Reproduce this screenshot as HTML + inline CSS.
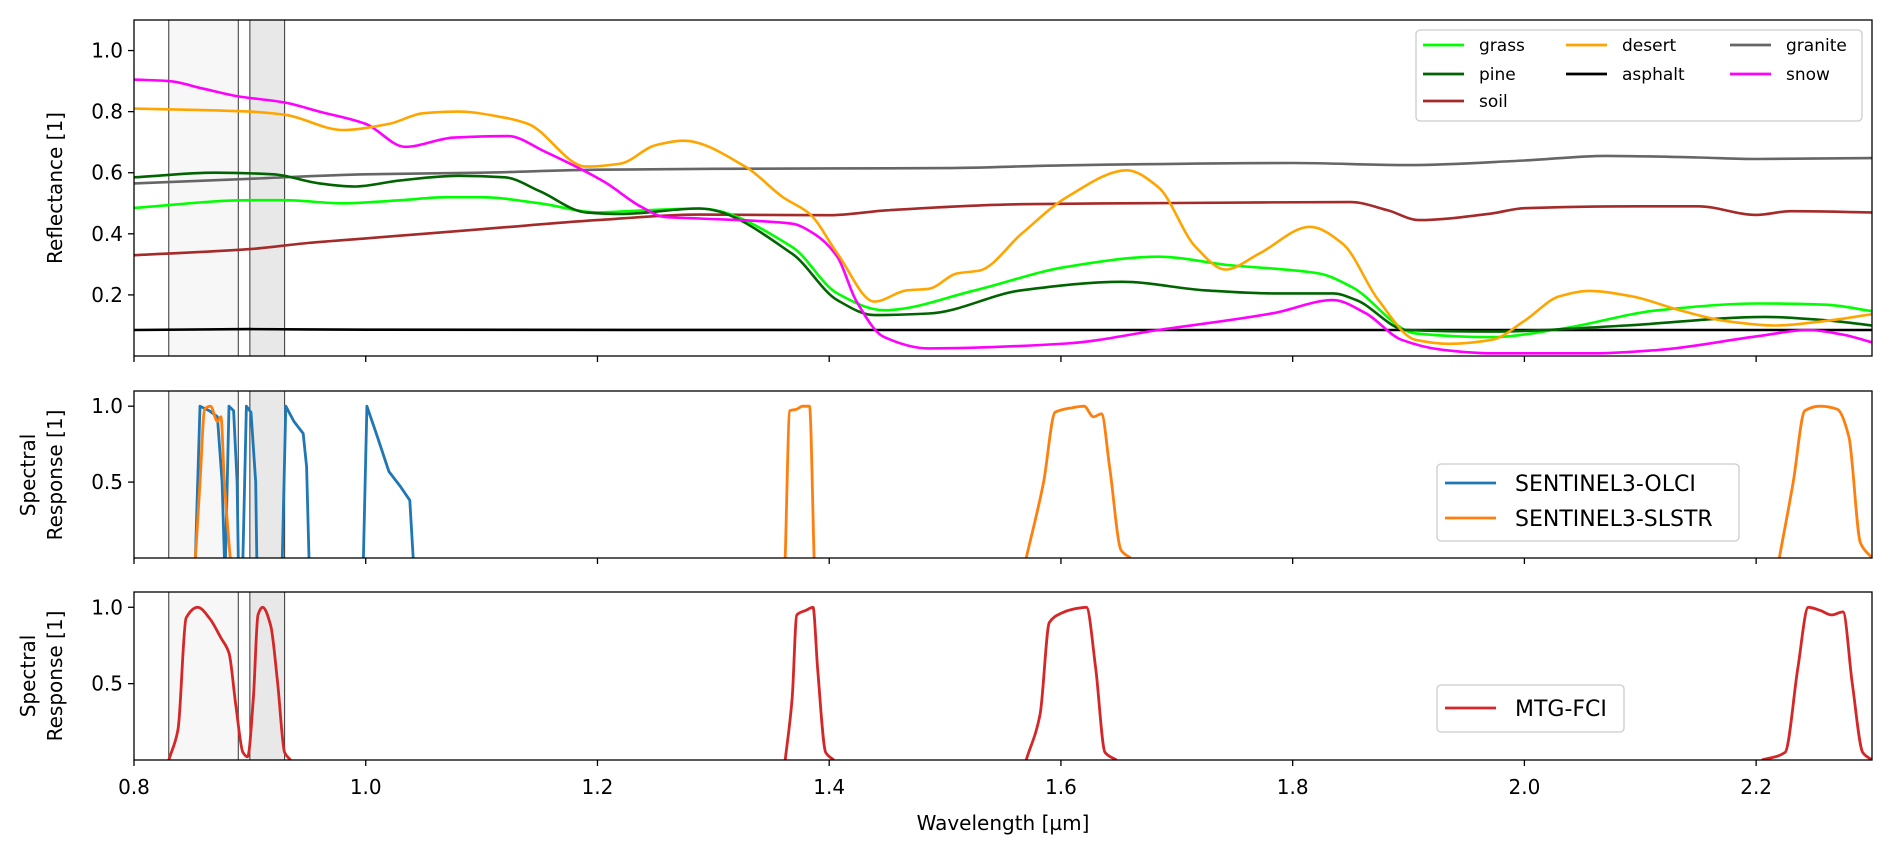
<!DOCTYPE html>
<html><head><meta charset="utf-8"><style>
html,body{margin:0;padding:0;background:#fff;}
svg{display:block;font-family:"DejaVu Sans","Liberation Sans",sans-serif;}
</style></head><body>
<svg id="fig" width="1892" height="852" viewBox="0 0 1892 852" xmlns="http://www.w3.org/2000/svg"></svg>
<script>
// ---- data ----
const xTicks = [0.8,1.0,1.2,1.4,1.6,1.8,2.0,2.2];
const reflTicks = [0.2,0.4,0.6,0.8,1.0];
const respTicks = [0.5,1.0];
const bands = [[0.83,0.89],[0.90,0.93]];

const grassWl = [0.8,0.9,0.93,0.98,1.03,1.07,1.1,1.15,1.2,1.23,1.288,1.368,1.407,1.447,1.526,1.605,1.684,1.744,1.823,1.851,1.906,1.972,2.03,2.116,2.202,2.26,2.3];
const grassV  = [0.485,0.51,0.51,0.50,0.51,0.52,0.52,0.50,0.47,0.475,0.483,0.357,0.205,0.150,0.215,0.292,0.325,0.298,0.27,0.226,0.074,0.062,0.088,0.15,0.172,0.168,0.147];
const pineWl = [0.8,0.87,0.92,0.96,0.99,1.03,1.08,1.12,1.15,1.19,1.22,1.288,1.368,1.407,1.439,1.486,1.566,1.653,1.724,1.783,1.835,1.855,1.898,1.972,2.088,2.208,2.26,2.3];
const pineV  = [0.585,0.60,0.595,0.565,0.555,0.575,0.59,0.585,0.54,0.47,0.465,0.483,0.335,0.183,0.134,0.139,0.215,0.243,0.215,0.205,0.205,0.183,0.085,0.08,0.10,0.128,0.117,0.10];
const soilWl = [0.8,0.9,0.95,1.0,1.05,1.1,1.2,1.288,1.4,1.45,1.566,1.7,1.85,1.882,1.909,1.972,2.0,2.1,2.15,2.2,2.23,2.3];
const soilV  = [0.33,0.35,0.37,0.385,0.40,0.415,0.445,0.463,0.461,0.477,0.497,0.501,0.504,0.477,0.445,0.467,0.484,0.49,0.49,0.462,0.474,0.47];
const desertWl = [0.8,0.9,0.93,0.98,1.02,1.05,1.08,1.12,1.14,1.19,1.22,1.25,1.274,1.328,1.36,1.383,1.407,1.439,1.467,1.486,1.51,1.53,1.566,1.605,1.657,1.684,1.716,1.742,1.771,1.815,1.843,1.874,1.906,1.935,1.972,2.0,2.03,2.056,2.093,2.133,2.173,2.216,2.26,2.3];
const desertV  = [0.81,0.80,0.79,0.74,0.76,0.795,0.80,0.78,0.76,0.62,0.63,0.69,0.705,0.619,0.52,0.466,0.336,0.178,0.215,0.22,0.27,0.28,0.40,0.52,0.608,0.553,0.358,0.283,0.335,0.423,0.368,0.183,0.053,0.04,0.053,0.115,0.195,0.213,0.195,0.151,0.115,0.10,0.115,0.137];
const asphaltWl = [0.8,0.9,1.0,1.5,2.0,2.3];
const asphaltV  = [0.085,0.088,0.086,0.085,0.085,0.085];
const graniteWl = [0.8,0.9,1.0,1.1,1.2,1.3,1.5,1.6,1.8,1.9,2.0,2.07,2.15,2.2,2.3];
const graniteV  = [0.565,0.58,0.595,0.60,0.61,0.613,0.615,0.624,0.632,0.625,0.64,0.655,0.65,0.645,0.648];
const snowWl = [0.8,0.83,0.86,0.89,0.93,0.96,1.0,1.034,1.076,1.123,1.154,1.206,1.237,1.258,1.288,1.368,1.387,1.407,1.423,1.447,1.486,1.605,1.684,1.783,1.835,1.863,1.894,1.93,1.972,2.06,2.116,2.202,2.245,2.275,2.3];
const snowV  = [0.905,0.90,0.875,0.85,0.83,0.80,0.76,0.685,0.715,0.72,0.67,0.57,0.49,0.455,0.45,0.433,0.40,0.325,0.183,0.063,0.025,0.041,0.085,0.14,0.183,0.14,0.053,0.02,0.009,0.009,0.02,0.065,0.085,0.07,0.045];

const olciBands = [
  {wl:[0.853,0.857,0.865,0.872,0.876,0.878],v:[0,1.0,0.97,0.93,0.5,0]},
  {wl:[0.879,0.882,0.886,0.889,0.890],v:[0,1.0,0.97,0.5,0]},
  {wl:[0.894,0.897,0.901,0.905,0.906],v:[0,1.0,0.96,0.5,0]},
  {wl:[0.928,0.931,0.938,0.946,0.949,0.951],v:[0,1.0,0.9,0.82,0.6,0]},
  {wl:[0.998,1.001,1.01,1.02,1.03,1.038,1.041],v:[0,1.0,0.8,0.57,0.47,0.38,0]}
];
const slstrBands = [
  {wl:[0.853,0.857,0.861,0.866,0.872,0.875,0.878,0.883],v:[0,0.5,0.98,1.0,0.9,0.93,0.5,0]},
  {wl:[1.362,1.366,1.372,1.377,1.383,1.387],v:[0,0.97,0.98,1.0,1.0,0]},
  {wl:[1.57,1.585,1.595,1.61,1.62,1.628,1.635,1.642,1.652,1.66],v:[0,0.5,0.96,0.99,1.0,0.93,0.95,0.6,0.05,0]},
  {wl:[2.22,2.232,2.242,2.255,2.27,2.28,2.29,2.3],v:[0,0.5,0.97,1.0,0.98,0.8,0.1,0]}
];
const fciBands = [
  {wl:[0.83,0.838,0.845,0.855,0.865,0.875,0.882,0.888,0.894,0.898,0.903,0.907,0.911,0.918,0.924,0.93,0.935],v:[0,0.2,0.93,1.0,0.93,0.8,0.7,0.35,0.05,0.02,0.4,0.95,1.0,0.88,0.5,0.05,0]},
  {wl:[1.362,1.368,1.372,1.38,1.386,1.39,1.397,1.404],v:[0,0.4,0.95,0.98,1.0,0.6,0.05,0]},
  {wl:[1.57,1.582,1.59,1.6,1.612,1.622,1.63,1.638,1.648],v:[0,0.3,0.9,0.96,0.99,1.0,0.6,0.05,0]},
  {wl:[2.205,2.225,2.236,2.245,2.255,2.265,2.275,2.283,2.292,2.3],v:[0,0.05,0.6,1.0,0.98,0.95,0.97,0.5,0.05,0]}
];

// ---- layout ----
const X0=134,X1=1872, W0=0.8,W1=2.3;
const axes=[{top:20,bot:356,ymax:1.1},{top:391,bot:558,ymax:1.1},{top:592,bot:760,ymax:1.1}];
const NS='http://www.w3.org/2000/svg';
const svg=document.getElementById('fig');
function sx(w){return X0+(w-W0)/(W1-W0)*(X1-X0);}
function sy(a,v){return a.bot-(v/a.ymax)*(a.bot-a.top);}
function mk(tag,attrs,parent){const e=document.createElementNS(NS,tag);for(const k in attrs)e.setAttribute(k,attrs[k]);(parent||svg).appendChild(e);return e;}
// monotone cubic (Fritsch-Carlson) -> no overshoot
function spline(pts){
  const n=pts.length;
  if(n<3) return 'M'+pts.map(p=>p[0].toFixed(1)+','+p[1].toFixed(1)).join('L');
  const dx=[],dy=[],s=[];
  for(let i=0;i<n-1;i++){dx.push(pts[i+1][0]-pts[i][0]);dy.push(pts[i+1][1]-pts[i][1]);s.push(dy[i]/dx[i]);}
  const m=[s[0]];
  for(let i=1;i<n-1;i++){
    if(s[i-1]*s[i]<=0) m.push(0);
    else{const w1=2*dx[i]+dx[i-1],w2=dx[i]+2*dx[i-1];m.push((w1+w2)/(w1/s[i-1]+w2/s[i]));}
  }
  m.push(s[n-2]);
  let d='M'+pts[0][0].toFixed(1)+','+pts[0][1].toFixed(1);
  for(let i=0;i<n-1;i++){
    const h=dx[i]/3;
    d+='C'+(pts[i][0]+h).toFixed(1)+','+(pts[i][1]+m[i]*h).toFixed(1)+' '+(pts[i+1][0]-h).toFixed(1)+','+(pts[i+1][1]-m[i+1]*h).toFixed(1)+' '+pts[i+1][0].toFixed(1)+','+pts[i+1][1].toFixed(1);
  }
  return d;
}
const clipDefs=mk('defs',{});
axes.forEach((a,i)=>{const cp=mk('clipPath',{id:'clip'+i},clipDefs);mk('rect',{x:X0,y:a.top,width:X1-X0,height:a.bot-a.top},cp);});

function drawAxes(a,i,ticks,showXLabels){
  const g=mk('g',{});
  
  
  bands.forEach((b,j)=>{
    const r=mk('rect',{x:sx(b[0]),y:a.top,width:sx(b[1])-sx(b[0]),height:a.bot-a.top,fill:j==0?'#f7f7f7':'#e8e8e8',stroke:'#333','stroke-width':1},g);
    
    
  });
  ticks.forEach(t=>{
    const y=sy(a,t);
    mk('line',{x1:X0-6,x2:X0,y1:y,y2:y,stroke:'#000','stroke-width':1.3},g);
    const tx=mk('text',{x:X0-11,y:y+7,'text-anchor':'end','font-size':20,fill:'#000'},g);
    tx.textContent=t.toFixed(1);
    
    
  });
  xTicks.forEach(t=>{
    const x=sx(t);
    mk('line',{x1:x,x2:x,y1:a.bot,y2:a.bot+6,stroke:'#000','stroke-width':1.3},g);
    if(showXLabels){
      const tx=mk('text',{x:x,y:a.bot+34,'text-anchor':'middle','font-size':20,fill:'#000'},g);
      tx.textContent=t.toFixed(1);
      
      
    }
  });
  return g;
}
axes.forEach((a,i)=>drawAxes(a,i,i==0?reflTicks:respTicks,i==2));

function drawSeries(a,i,wl,v,color,name,lw,smooth){
  const pts=wl.map((w,k)=>[sx(w),sy(a,v[k])]);
  const d=smooth?spline(pts):'M'+pts.map(p=>p[0].toFixed(1)+','+p[1].toFixed(1)).join('L');
  const p=mk('path',{d:d,fill:'none',stroke:color,'stroke-width':lw,'stroke-linejoin':'round','clip-path':'url(#clip'+i+')'});
  
  
}
const A=axes[0];
drawSeries(A,0,graniteWl,graniteV,'#666666','granite-line',2.6,true);
drawSeries(A,0,soilWl,soilV,'#a52a2a','soil-line',2.6,true);
drawSeries(A,0,asphaltWl,asphaltV,'#000000','asphalt-line',2.6,true);
drawSeries(A,0,grassWl,grassV,'#00ff00','grass-line',2.6,true);
drawSeries(A,0,pineWl,pineV,'#006400','pine-line',2.6,true);
drawSeries(A,0,snowWl,snowV,'#ff00ff','snow-line',2.6,true);
drawSeries(A,0,desertWl,desertV,'#ffa500','desert-line',2.6,true);

olciBands.forEach((b,k)=>drawSeries(axes[1],1,b.wl,b.v,'#1f77b4','olci-band-'+(k+1),2.8,false));
slstrBands.forEach((b,k)=>drawSeries(axes[1],1,b.wl,b.v,'#ff7f0e','slstr-band-'+(k+1),2.8,true));
fciBands.forEach((b,k)=>drawSeries(axes[2],2,b.wl,b.v,'#d62728','fci-band-'+(k+1),2.8,true));

axes.forEach((a,i)=>{
  const r=mk('rect',{x:X0,y:a.top,width:X1-X0,height:a.bot-a.top,fill:'none',stroke:'#000','stroke-width':1.3});
  
  
});

function legend(x,y,w,h,entries,fs,name){
  const g=mk('g',{});
  
  
  mk('rect',{x:x,y:y,width:w,height:h,rx:4,fill:'#fff','fill-opacity':0.8,stroke:'#cccccc','stroke-width':1.3},g);
  entries.forEach(e=>{
    mk('line',{x1:e.lx,x2:e.lx+e.ll,y1:e.y,y2:e.y,stroke:e.c,'stroke-width':2.8},g);
    const t=mk('text',{x:e.lx+e.ll+e.gap,y:e.y+fs*0.36,'font-size':fs,fill:'#000'},g);
    t.textContent=e.t;
    
    
  });
}
legend(1416,30,446,91,[
  {lx:1423,ll:41,gap:15,y:45,c:'#00ff00',t:'grass'},
  {lx:1423,ll:41,gap:15,y:74,c:'#006400',t:'pine'},
  {lx:1423,ll:41,gap:15,y:101,c:'#a52a2a',t:'soil'},
  {lx:1566,ll:41,gap:15,y:45,c:'#ffa500',t:'desert'},
  {lx:1566,ll:41,gap:15,y:74,c:'#000000',t:'asphalt'},
  {lx:1730,ll:41,gap:15,y:45,c:'#666666',t:'granite'},
  {lx:1730,ll:41,gap:15,y:74,c:'#ff00ff',t:'snow'}
],17,'reflectance-legend');
legend(1437,464,302,77,[
  {lx:1445,ll:51,gap:19,y:483,c:'#1f77b4',t:'SENTINEL3-OLCI'},
  {lx:1445,ll:51,gap:19,y:518,c:'#ff7f0e',t:'SENTINEL3-SLSTR'}
],22,'sensor-legend-s3');
legend(1437,685,187,47,[
  {lx:1445,ll:51,gap:19,y:708,c:'#d62728',t:'MTG-FCI'}
],22,'sensor-legend-fci');

function rotText(x,y,s,name){
  const t=mk('text',{x:x,y:y,'text-anchor':'middle','font-size':20,fill:'#000',transform:'rotate(-90 '+x+' '+y+')'});
  t.textContent=s;
  
  
}
rotText(62,188,'Reflectance [1]','y-axis-title-reflectance');
rotText(35,475,'Spectral','y-axis-title-response-1a');
rotText(62,475,'Response [1]','y-axis-title-response-1b');
rotText(35,676,'Spectral','y-axis-title-response-2a');
rotText(62,676,'Response [1]','y-axis-title-response-2b');
const xl=mk('text',{x:(X0+X1)/2,y:830,'text-anchor':'middle','font-size':20,fill:'#000'});
xl.textContent='Wavelength [µm]';


</script>
</body></html>
